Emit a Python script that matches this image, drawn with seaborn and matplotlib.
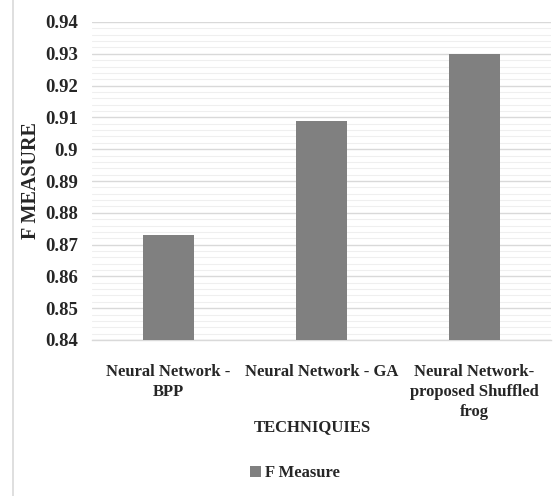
import matplotlib
matplotlib.use("Agg")
import matplotlib.pyplot as plt
from matplotlib.lines import Line2D
from matplotlib.ticker import MultipleLocator
import seaborn as sns
import pandas as pd

# Data
categories = ["Neural Network - BPP", "Neural Network - GA",
              "Neural Network- proposed Shuffled frog"]
tick_labels = ["Neural Network -\nBPP", "Neural Network - GA",
               "Neural Network-\nproposed Shuffled\nfrog"]
f_measure = [0.873, 0.909, 0.930]
series_name = "F Measure"
y_ticks = [0.84, 0.85, 0.86, 0.87, 0.88, 0.89, 0.90, 0.91, 0.92, 0.93, 0.94]
y_tick_labels = ["0.84", "0.85", "0.86", "0.87", "0.88", "0.89", "0.9",
                 "0.91", "0.92", "0.93", "0.94"]

df = pd.DataFrame({"technique": categories, "value": f_measure})

sns.set_theme(style="white")
plt.rcParams["font.family"] = ["Liberation Serif", "DejaVu Serif"]

W, H = 556, 496
fig = plt.figure(figsize=(W / 100, H / 100), dpi=100)
ax = fig.add_axes([92 / W, 1 - 340 / H, (551 - 92) / W, (340 - 22) / H])

sns.barplot(data=df, x="technique", y="value", color="#808080",
            saturation=1, width=0.333, ax=ax, label=series_name,
            edgecolor="none", zorder=3)

ax.set_ylim(0.84, 0.94)
ax.set_yticks(y_ticks)
ax.set_yticklabels(y_tick_labels, fontsize=13.5, fontweight="bold")
ax.yaxis.set_minor_locator(MultipleLocator(0.002))
ax.set_xticks(range(len(categories)))
ax.set_xticklabels(tick_labels, fontsize=12, fontweight="bold",
                   linespacing=1.35)
ax.tick_params(axis="x", length=0, pad=17)
ax.tick_params(axis="y", length=0, pad=10)

ax.grid(axis="y", which="major", color="#d9d9d9", linewidth=1.0, zorder=0)
ax.grid(axis="y", which="minor", color="#efefef", linewidth=0.8, zorder=0)
ax.set_axisbelow(True)

for side in ["left", "right", "top"]:
    ax.spines[side].set_visible(False)
ax.spines["bottom"].set_color("#d9d9d9")
ax.spines["bottom"].set_linewidth(1.0)

ax.set_xlabel("")
ax.set_ylabel("")
fig.text(31 / W, 1 - 181 / H, "F MEASURE", rotation=90, ha="center",
         va="center", fontsize=14.5, fontweight="bold")

fig.text(312 / W, 1 - 427 / H, "TECHNIQUIES", ha="center", va="center",
         fontsize=12, fontweight="bold")

handles, labels = ax.get_legend_handles_labels()
fig.legend(handles, labels, loc="center", bbox_to_anchor=(295 / W, 1 - 473 / H),
           frameon=False, handlelength=0.65, handleheight=0.65,
           handletextpad=0.2, prop={"size": 12, "weight": "bold"})
if ax.get_legend() is not None:
    ax.get_legend().remove()

# chart-area border on the left
fig.add_artist(Line2D([12.5 / W, 12.5 / W], [0, 1], transform=fig.transFigure,
                      color="#d9d9d9", linewidth=1.2))

fig.savefig("out.png", dpi=100, facecolor="white")
